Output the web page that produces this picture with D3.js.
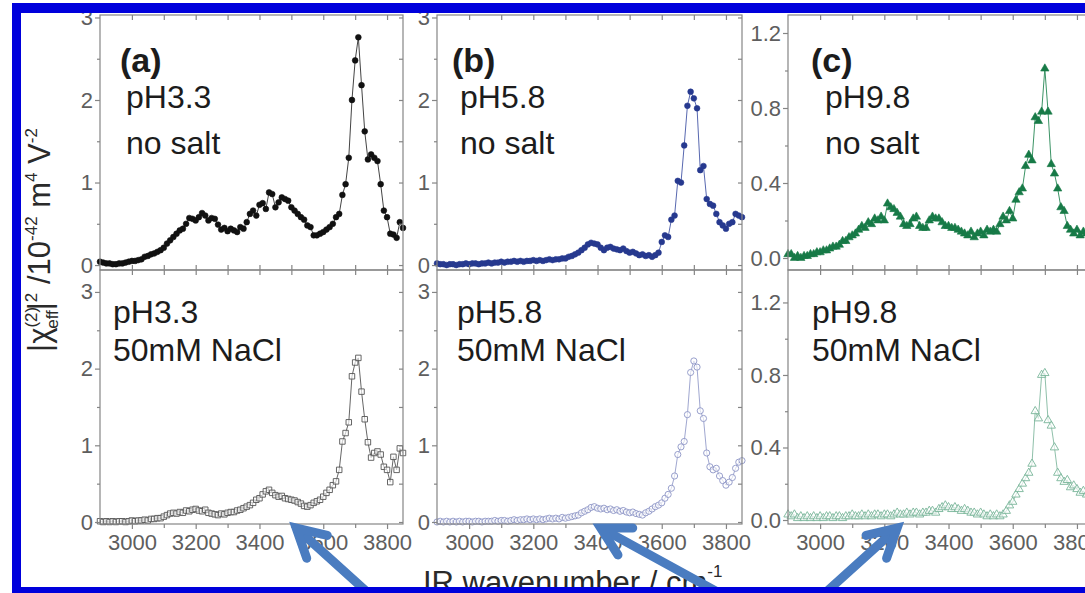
<!DOCTYPE html>
<html>
<head>
<meta charset="utf-8">
<script src="https://cdn.jsdelivr.net/npm/d3@7"></script>
<style>
  html, body { margin: 0; padding: 0; background: #fff; }
  svg { display: block; font-family: "Liberation Sans", Arial, sans-serif; }
</style>
</head>
<body>
<div id="chart"></div>
<script>
// wavenumbers (cm-1) shared by all spectra
const wavenumbers = [
  2900, 2910, 2920, 2930, 2940, 2950, 2960, 2970, 2980, 2990,
  3000, 3010, 3020, 3030, 3040, 3050, 3060, 3070, 3080, 3090,
  3100, 3110, 3120, 3130, 3140, 3150, 3160, 3170, 3180, 3190,
  3200, 3210, 3220, 3230, 3240, 3250, 3260, 3270, 3280, 3290,
  3300, 3310, 3320, 3330, 3340, 3350, 3360, 3370, 3380, 3390,
  3400, 3410, 3420, 3430, 3440, 3450, 3460, 3470, 3480, 3490,
  3500, 3510, 3520, 3530, 3540, 3550, 3560, 3570, 3580, 3590,
  3600, 3610, 3620, 3630, 3640, 3650, 3660, 3670, 3680, 3690,
  3700, 3710, 3720, 3730, 3740, 3750, 3760, 3770, 3780, 3790,
  3800, 3810, 3820, 3830, 3840, 3850
];

// |chi_eff|^2 values
const pH33NoSalt = [
  0.04, 0.03, 0.02, 0.02, 0.01, 0.01, 0.02, 0.02, 0.03, 0.04,
  0.05, 0.05, 0.06, 0.07, 0.10, 0.11, 0.13, 0.14, 0.16, 0.18,
  0.21, 0.26, 0.30, 0.34, 0.38, 0.42, 0.44, 0.50, 0.57, 0.56,
  0.54, 0.58, 0.63, 0.60, 0.54, 0.57, 0.56, 0.49, 0.43, 0.45,
  0.41, 0.44, 0.42, 0.40, 0.46, 0.44, 0.52, 0.62, 0.66, 0.60,
  0.73, 0.75, 0.68, 0.88, 0.86, 0.70, 0.76, 0.82, 0.80, 0.78,
  0.70, 0.66, 0.62, 0.58, 0.55, 0.48, 0.46, 0.36, 0.36, 0.38,
  0.40, 0.43, 0.46, 0.50, 0.58, 0.62, 0.85, 0.98, 1.30, 2.00,
  2.48, 2.76, 2.18, 1.62, 1.28, 1.34, 1.30, 1.26, 0.98, 0.66,
  0.58, 0.38, 0.37, 0.33, 0.52, 0.45
];
const pH33NaCl = [
  0.01, 0.00, 0.01, 0.00, 0.01, 0.00, 0.01, 0.01, 0.00, 0.01,
  0.02, 0.01, 0.02, 0.02, 0.03, 0.02, 0.04, 0.04, 0.05, 0.05,
  0.07, 0.09, 0.11, 0.12, 0.11, 0.13, 0.12, 0.15, 0.14, 0.16,
  0.17, 0.15, 0.14, 0.16, 0.12, 0.11, 0.10, 0.09, 0.11, 0.10,
  0.12, 0.13, 0.13, 0.15, 0.16, 0.18, 0.20, 0.22, 0.25, 0.29,
  0.31, 0.36, 0.40, 0.42, 0.38, 0.35, 0.33, 0.34, 0.31, 0.30,
  0.29, 0.28, 0.26, 0.24, 0.21, 0.20, 0.22, 0.25, 0.27, 0.29,
  0.33, 0.38, 0.42, 0.48, 0.53, 0.68, 1.05, 1.16, 1.30, 1.90,
  2.08, 2.14, 1.70, 1.34, 1.04, 0.84, 0.90, 0.92, 0.88, 0.72,
  0.68, 0.52, 0.85, 0.68, 0.96, 0.90
];
const pH58NoSalt = [
  0.02, 0.01, 0.01, 0.00, 0.01, 0.01, 0.00, 0.01, 0.01, 0.02,
  0.01, 0.02, 0.02, 0.01, 0.02, 0.02, 0.03, 0.02, 0.03, 0.03,
  0.04, 0.03, 0.04, 0.04, 0.05, 0.04, 0.05, 0.04, 0.05, 0.05,
  0.06, 0.05, 0.06, 0.05, 0.06, 0.07, 0.06, 0.07, 0.07, 0.08,
  0.08, 0.10, 0.11, 0.13, 0.15, 0.18, 0.21, 0.25, 0.27, 0.26,
  0.25, 0.21, 0.18, 0.21, 0.22, 0.20, 0.19, 0.18, 0.20, 0.17,
  0.15, 0.16, 0.14, 0.12, 0.13, 0.11, 0.12, 0.10, 0.12, 0.15,
  0.28, 0.36, 0.34, 0.55, 0.60, 1.02, 1.00, 1.45, 1.93, 2.10,
  2.02, 1.90, 1.15, 1.20, 0.80, 0.74, 0.72, 0.62, 0.52, 0.48,
  0.44, 0.50, 0.52, 0.62, 0.60, 0.58
];
const pH58NaCl = [
  0.00, 0.01, 0.00, 0.01, 0.00, 0.01, 0.00, 0.01, 0.00, 0.01,
  0.01, 0.00, 0.01, 0.01, 0.00, 0.01, 0.01, 0.01, 0.02, 0.01,
  0.02, 0.02, 0.01, 0.02, 0.03, 0.02, 0.03, 0.03, 0.04, 0.03,
  0.04, 0.03, 0.04, 0.03, 0.04, 0.05, 0.04, 0.05, 0.04, 0.06,
  0.05, 0.06, 0.07, 0.08, 0.09, 0.12, 0.14, 0.16, 0.19, 0.20,
  0.18, 0.17, 0.18, 0.16, 0.17, 0.15, 0.16, 0.14, 0.15, 0.13,
  0.12, 0.13, 0.11, 0.10, 0.09, 0.12, 0.14, 0.17, 0.20, 0.22,
  0.25, 0.31, 0.36, 0.44, 0.60, 0.88, 0.98, 1.05, 1.40, 1.95,
  2.10, 2.02, 1.45, 1.35, 0.90, 0.72, 0.68, 0.70, 0.60, 0.54,
  0.48, 0.52, 0.58, 0.70, 0.78, 0.80
];
const pH98NoSalt = [
  0.02, 0.02, 0.00, 0.01, 0.00, 0.01, 0.01, 0.02, 0.02, 0.03,
  0.03, 0.04, 0.04, 0.05, 0.06, 0.06, 0.07, 0.09, 0.09, 0.11,
  0.12, 0.13, 0.15, 0.17, 0.16, 0.19, 0.18, 0.21, 0.20, 0.22,
  0.20, 0.29, 0.27, 0.26, 0.24, 0.22, 0.18, 0.17, 0.18, 0.21,
  0.22, 0.17, 0.16, 0.16, 0.20, 0.22, 0.21, 0.21, 0.19, 0.17,
  0.17, 0.16, 0.16, 0.15, 0.14, 0.13, 0.12, 0.14, 0.11, 0.13,
  0.14, 0.12, 0.15, 0.14, 0.15, 0.14, 0.18, 0.22, 0.20, 0.25,
  0.21, 0.31, 0.35, 0.37, 0.49, 0.55, 0.52, 0.75, 0.73, 0.78,
  1.01, 0.78, 0.50, 0.45, 0.37, 0.27, 0.25, 0.17, 0.15, 0.13,
  0.15, 0.12, 0.14, 0.13, 0.12, 0.12
];
const pH98NaCl = [
  0.03, 0.02, 0.03, 0.01, 0.02, 0.01, 0.02, 0.01, 0.02, 0.01,
  0.02, 0.01, 0.02, 0.02, 0.01, 0.02, 0.02, 0.01, 0.02, 0.02,
  0.03, 0.02, 0.02, 0.03, 0.02, 0.03, 0.02, 0.03, 0.03, 0.02,
  0.03, 0.03, 0.02, 0.03, 0.04, 0.03, 0.03, 0.04, 0.03, 0.04,
  0.04, 0.03, 0.04, 0.04, 0.05, 0.05, 0.04, 0.06, 0.07, 0.08,
  0.07, 0.06, 0.07, 0.06, 0.05, 0.06, 0.05, 0.04, 0.04, 0.03,
  0.04, 0.03, 0.02, 0.03, 0.02, 0.03, 0.02, 0.03, 0.05, 0.08,
  0.10, 0.14, 0.17, 0.20, 0.23, 0.26, 0.31, 0.60, 0.56, 0.80,
  0.81, 0.55, 0.52, 0.40, 0.26, 0.23, 0.21, 0.22, 0.18, 0.19,
  0.17, 0.15, 0.16, 0.14, 0.13, 0.12
];

const xTickLabels = [3000, 3200, 3400, 3600, 3800];
const yTicksAB = [0, 1, 2, 3];
const yTicksC = [0, 0.4, 0.8, 1.2];
const panelLetters = ["(a)", "(b)", "(c)"];
const phLabels = ["pH3.3", "pH5.8", "pH9.8"];
const saltLabels = ["no salt", "50mM NaCl"];

const W = 1085, H = 593;
const svg = d3.select("#chart").append("svg").attr("width", W).attr("height", H);

const axisGray = "#858585";
const tickTextColor = "#5e5e5e";

// column layout (left edge of each plot box)
const columns = [
  { left: 100, right: 403, ticks: yTicksAB, fmt: d3.format("d"), minor: [0.5, 1.5, 2.5],
    domTop: [-0.06, 3.03], domBot: [-0.026, 3.286], textX: 126, letterX: 120, botTextX: 113 },
  { left: 437, right: 742, ticks: yTicksAB, fmt: d3.format("d"), minor: [0.5, 1.5, 2.5],
    domTop: [-0.06, 3.03], domBot: [-0.026, 3.286], textX: 460, letterX: 452, botTextX: 457 },
  { left: 788, right: 1093, ticks: yTicksC, fmt: d3.format(".1f"), minor: [0.2, 0.6, 1.0],
    domTop: [-0.064, 1.296], domBot: [-0.022, 1.379], textX: 825, letterX: 811, botTextX: 812 }
];
const rows = [{ top: 15, bottom: 270 }, { top: 270, bottom: 524 }];

const series = [
  [pH33NoSalt, pH33NaCl],
  [pH58NoSalt, pH58NaCl],
  [pH98NoSalt, pH98NaCl]
];
const styles = [
  [{ sym: d3.symbolCircle, size: 26, fill: "#111", stroke: "#111", line: "#444" },
   { sym: d3.symbolSquare, size: 30, fill: "none", stroke: "#555", line: "#666" }],
  [{ sym: d3.symbolCircle, size: 26, fill: "#26398f", stroke: "#26398f", line: "#5868b0" },
   { sym: d3.symbolCircle, size: 30, fill: "none", stroke: "#8d95c6", line: "#a0a7d0" }],
  [{ sym: d3.symbolTriangle, size: 30, fill: "#177a47", stroke: "#177a47", line: "#3c9466" },
   { sym: d3.symbolTriangle, size: 30, fill: "none", stroke: "#79b59a", line: "#8fc0aa" }]
];

const bottomScales = [];

columns.forEach((col, ci) => {
  const x = d3.scaleLinear().domain([2900, 3850]).range([col.left, col.right]);
  rows.forEach((row, ri) => {
    const y = d3.scaleLinear()
      .domain(ri === 0 ? col.domTop : col.domBot)
      .range([row.bottom, row.top]);
    if (ri === 1) bottomScales.push(x);

    const g = svg.append("g");
    const vals = series[ci][ri];
    const st = styles[ci][ri];
    const pts = wavenumbers.map((w, i) => ({ w, v: vals[i] }));

    g.append("path")
      .datum(pts)
      .attr("fill", "none")
      .attr("stroke", st.line)
      .attr("stroke-width", 1)
      .attr("d", d3.line().x(d => x(d.w)).y(d => y(d.v)));

    g.selectAll(".m").data(pts).enter().append("path")
      .attr("transform", d => `translate(${x(d.w)},${y(d.v)})`)
      .attr("d", d3.symbol().type(st.sym).size(st.size))
      .attr("fill", st.fill === "none" ? "#fff" : st.fill)
      .attr("fill-opacity", st.fill === "none" ? 0.6 : 1)
      .attr("stroke", st.stroke)
      .attr("stroke-width", st.fill === "none" ? 0.9 : 0.6);

    // frame
    g.append("rect")
      .attr("x", col.left).attr("y", row.top)
      .attr("width", col.right - col.left).attr("height", row.bottom - row.top)
      .attr("fill", "none").attr("stroke", axisGray).attr("stroke-width", 1.2);

    const styleAxis = (sel) => {
      sel.select(".domain").remove();
      sel.selectAll("line").attr("stroke", axisGray).attr("stroke-width", 1.2);
      sel.selectAll("text").attr("fill", tickTextColor).style("font-size", "22px")
        .style("font-family", "'Liberation Sans', Arial, sans-serif");
    };

    // left axis (outward ticks)
    g.append("g").attr("transform", `translate(${col.left},0)`)
      .call(d3.axisLeft(y).tickValues(col.ticks).tickSize(5).tickPadding(2).tickFormat(col.fmt))
      .call(styleAxis);
    g.append("g").attr("transform", `translate(${col.left},0)`)
      .call(d3.axisLeft(y).tickValues(col.minor).tickSize(3).tickFormat(""))
      .call(styleAxis);
    // right axis (inward ticks)
    g.append("g").attr("transform", `translate(${col.right},0)`)
      .call(d3.axisRight(y).tickValues(col.ticks.concat(col.minor)).tickSize(-4).tickFormat(""))
      .call(styleAxis);
    // top axis (inward ticks every 100)
    const xMinor = d3.range(3000, 3850, 100);
    g.append("g").attr("transform", `translate(0,${row.top})`)
      .call(d3.axisTop(x).tickValues(xMinor).tickSize(-5).tickFormat(""))
      .call(styleAxis);
    // bottom axis
    const bAxis = g.append("g").attr("transform", `translate(0,${row.bottom})`);
    if (ri === 1) {
      bAxis.call(d3.axisBottom(x).tickValues(xTickLabels).tickSize(5).tickPadding(5).tickFormat(d3.format("d")))
        .call(styleAxis);
      g.append("g").attr("transform", `translate(0,${row.bottom})`)
        .call(d3.axisBottom(x).tickValues(xMinor.filter(v => xTickLabels.indexOf(v) < 0)).tickSize(4).tickFormat(""))
        .call(styleAxis);
    } else {
      bAxis.call(d3.axisBottom(x).tickValues(xMinor).tickSize(-5).tickFormat("")).call(styleAxis);
    }

    // annotation text
    const txt = g.append("g").attr("fill", "#1c1c1c").style("font-size", "32px");
    if (ri === 0) {
      txt.append("text").attr("x", col.letterX).attr("y", 72)
        .style("font-weight", "bold").style("font-size", "34px").text(panelLetters[ci]);
      txt.append("text").attr("x", col.textX).attr("y", 108).text(phLabels[ci]);
      txt.append("text").attr("x", col.textX).attr("y", 154).text(saltLabels[0]);
    } else {
      txt.append("text").attr("x", col.botTextX).attr("y", 323).text(phLabels[ci]);
      txt.append("text").attr("x", col.botTextX).attr("y", 361).text(saltLabels[1]);
    }
  });
});

// y axis title
const yTitle = svg.append("text")
  .attr("transform", "translate(50,240) rotate(-90)")
  .attr("text-anchor", "middle")
  .attr("fill", "#2a2a2a")
  .style("font-size", "31px");
yTitle.append("tspan").text("|\u03C7");
yTitle.append("tspan").attr("dy", -13).style("font-size", "17px").text("(2)");
yTitle.append("tspan").attr("dx", -22).attr("dy", 21).style("font-size", "17px").text("eff");
yTitle.append("tspan").attr("dy", -8).text("|");
yTitle.append("tspan").attr("dy", -13).style("font-size", "17px").text("2");
yTitle.append("tspan").attr("dy", 13).text(" /10");
yTitle.append("tspan").attr("dy", -13).style("font-size", "17px").text("-42");
yTitle.append("tspan").attr("dy", 13).text(" m");
yTitle.append("tspan").attr("dy", -13).style("font-size", "17px").text("4");
yTitle.append("tspan").attr("dy", 13).text(" V");
yTitle.append("tspan").attr("dy", -13).style("font-size", "17px").text("-2");

// x axis title
const xTitle = svg.append("text")
  .attr("x", 423).attr("y", 593)
  .attr("fill", "#2a2a2a")
  .style("font-size", "31px");
xTitle.append("tspan").text("IR wavenumber / cm");
xTitle.append("tspan").attr("dy", -16).style("font-size", "17px").text("-1");

// arrows pointing at the low-frequency region of each NaCl spectrum
const arrowTips = [3515, 3410, 3240];
const arrowTails = [[82, 74], [135, 74], [-82, 74]];
const arrowColor = "#4a7cc0";
arrowTips.forEach((w, i) => {
  const tx = bottomScales[i](w), ty = rows[1].bottom + 4;
  const [dx, dy] = arrowTails[i];
  const ang = Math.atan2(dy, dx);
  const wing = 32, spread = 0.5;
  const a = svg.append("g").attr("stroke", arrowColor).attr("fill", "none")
    .attr("stroke-width", 9).attr("stroke-linecap", "round");
  a.append("line").attr("x1", tx + 4 * Math.cos(ang)).attr("y1", ty + 4 * Math.sin(ang))
    .attr("x2", tx + dx).attr("y2", ty + dy);
  a.append("path")
    .attr("stroke-linejoin", "miter")
    .attr("d", `M${tx + wing * Math.cos(ang - spread)},${ty + wing * Math.sin(ang - spread)}` +
      `L${tx},${ty}L${tx + wing * Math.cos(ang + spread)},${ty + wing * Math.sin(ang + spread)}`);
});

// blue frame around the figure
const frameBlue = "#0000dc";
svg.append("rect").attr("x", 12).attr("y", 3).attr("width", W - 12).attr("height", 10).attr("fill", frameBlue);
svg.append("rect").attr("x", 12).attr("y", 3).attr("width", 9).attr("height", H - 3).attr("fill", frameBlue);
svg.append("rect").attr("x", 12).attr("y", 587).attr("width", W - 12).attr("height", 6).attr("fill", frameBlue);
</script>
</body>
</html>
